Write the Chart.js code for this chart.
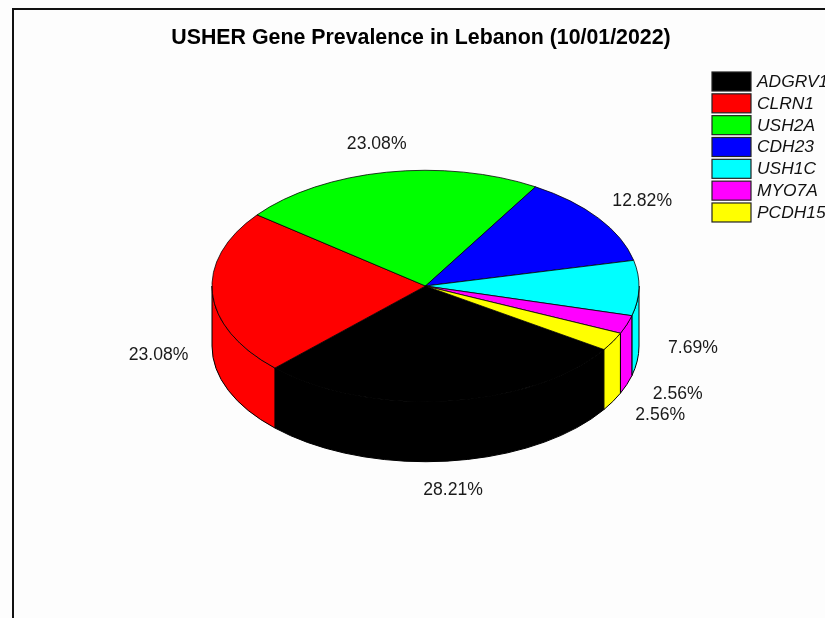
<!DOCTYPE html>
<html>
<head>
<meta charset="utf-8">
<title>USHER Gene Prevalence in Lebanon</title>
<script src="https://cdn.jsdelivr.net/npm/chart.js@4"></script>
<style>
    html, body { margin: 0; width: 825px; height: 618px; overflow: hidden; background: #fdfdfd; }
    #frame { position: absolute; left: 12px; top: 8px; width: 900px; height: 700px; border: 2px solid #111; }
    #geneChart { position: absolute; left: 0; top: 0; }
</style>
</head>
<body>
<div id="frame"></div>
<canvas id="geneChart" width="825" height="618"></canvas>
<script>
const chartTitle = "USHER Gene Prevalence in Lebanon (10/01/2022)";
const genes = ["ADGRV1", "CLRN1", "USH2A", "CDH23", "USH1C", "MYO7A", "PCDH15"];
const prevalence = [28.21, 23.08, 23.08, 12.82, 7.69, 2.56, 2.56];
const sliceColors = ["#000000", "#ff0000", "#00ff00", "#0000ff", "#00ffff", "#ff00ff", "#ffff00"];

// look of the tilted pie
const pieTop = 286;      // y of the pie centre after tilting
const squash = 0.542;    // vertical scale of the top face
const depth = 60;        // height of the side wall
const labelGap = 54;     // horizontal gap between rim and percent label
const labelGapY = 29;    // the same, vertically

function drawWall(ctx, arc)
{
    // only the part of a slice facing the viewer (0..PI) has a visible wall
    for (let turn = -1; turn <= 1; turn++)
    {
        let from = Math.max(arc.startAngle, turn * 2 * Math.PI);
        let to = Math.min(arc.endAngle, turn * 2 * Math.PI + Math.PI);
        if (to <= from) continue;

        let rx = arc.outerRadius;
        let ry = rx * squash;
        ctx.beginPath();
        ctx.ellipse(arc.x, pieTop, rx, ry, 0, from, to);
        ctx.ellipse(arc.x, pieTop + depth, rx, ry, 0, to, from, true);
        ctx.closePath();
        ctx.fillStyle = arc.options.backgroundColor;
        ctx.fill();
        ctx.lineWidth = 1;
        ctx.strokeStyle = "#000";
        ctx.stroke();
    }
}

const tiltedPie = {
    id: "tiltedPie",
    beforeDatasetsDraw(chart)
    {
        let ctx = chart.ctx;
        let arcs = chart.getDatasetMeta(0).data;
        arcs.forEach(arc => drawWall(ctx, arc));

        ctx.save();
        ctx.translate(arcs[0].x, pieTop);
        ctx.scale(1, squash);
        ctx.translate(-arcs[0].x, -arcs[0].y);
    },
    afterDatasetsDraw(chart)
    {
        let ctx = chart.ctx;
        ctx.restore();

        // percent labels, placed around the rim of each slice
        ctx.save();
        ctx.font = "17.6px 'Liberation Sans'";
        ctx.fillStyle = "#1a1a1a";
        ctx.textAlign = "center";
        ctx.textBaseline = "middle";
        chart.getDatasetMeta(0).data.forEach((arc, i) => {
            let mid = (arc.startAngle + arc.endAngle) / 2;
            let rx = arc.outerRadius;
            let x = arc.x + (rx + labelGap) * Math.cos(mid);
            let y = pieTop + (rx * squash + labelGapY) * Math.sin(mid);
            if (Math.sin(mid) > 0) y += depth;
            ctx.fillText(prevalence[i].toFixed(2) + "%", x, y);
        });

        // title
        ctx.font = "bold 21.35px 'Liberation Sans'";
        ctx.fillStyle = "#000";
        ctx.fillText(chartTitle, 421, 38);

        // legend
        ctx.textAlign = "left";
        genes.forEach((gene, i) => {
            let y = 72 + i * 21.83;
            ctx.fillStyle = sliceColors[i];
            ctx.fillRect(712, y, 39, 19);
            ctx.lineWidth = 1.2;
            ctx.strokeStyle = "#222";
            ctx.strokeRect(712, y, 39, 19);
            ctx.font = "italic 17.4px 'Liberation Sans'";
            ctx.fillStyle = "#111";
            ctx.fillText(gene, 757, y + 10);
        });
        ctx.restore();
    }
};

new Chart(document.getElementById("geneChart"), {
    type: "pie",
    data: {
        labels: genes,
        datasets: [{
            data: prevalence,
            backgroundColor: sliceColors,
            borderColor: "#000",
            borderWidth: 1
        }]
    },
    options: {
        responsive: false,
        animation: false,
        rotation: 123.3,
        layout: { padding: { left: 211, right: 185, top: 95, bottom: 95 } },
        plugins: {
            legend: { display: false },
            title: { display: false },
            tooltip: { enabled: false }
        }
    },
    plugins: [tiltedPie]
});
</script>
</body>
</html>
